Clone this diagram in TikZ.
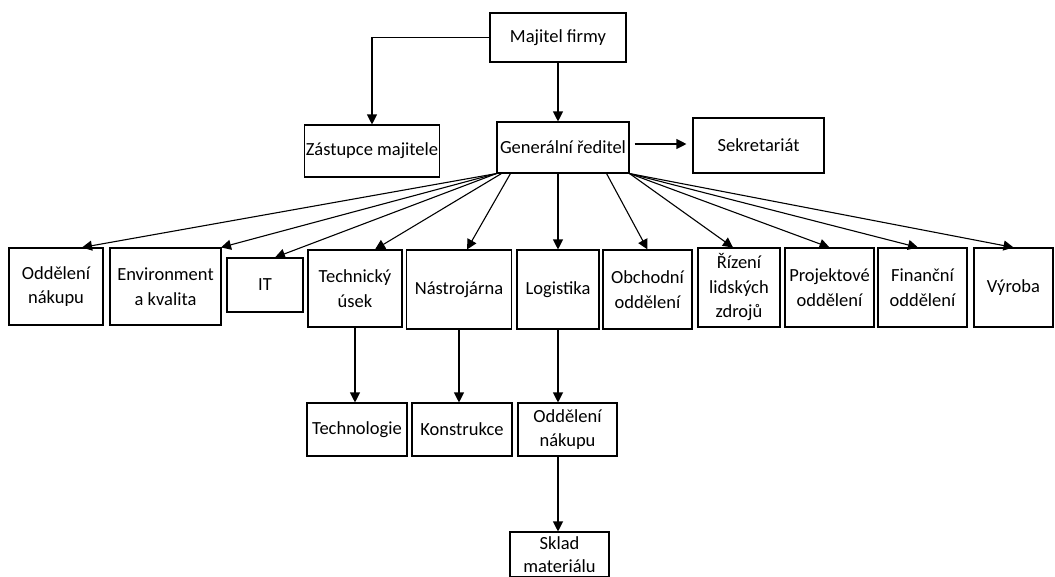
\documentclass[tikz,border=0pt]{standalone}
\usepackage{fontspec}
\setmainfont{Carlito}
\usetikzlibrary{arrows.meta}

\begin{document}
\begin{tikzpicture}[x=1pt, y=-1pt, line width=1.1pt,
		>={Triangle[length=10pt,width=10pt]},
		box/.style={draw, align=center, inner sep=1pt,
			font=\fontsize{18.5}{24.5}\selectfont}]
	% Rozměr obrázku (Sklad materiálu je dole oříznutý)
	\clip (0,0) rectangle (1055,576);
	
	% Vedení firmy
	\node[box, minimum width=136pt, minimum height=49pt] (maj) at (558,37.5) {Majitel firmy};
	\node[box, minimum width=132pt, minimum height=52pt] (zas) at (372,151) {Zástupce majitele};
	\node[box, minimum width=132pt, minimum height=51pt] (gen) at (563,147.5) {Generální ředitel};
	\node[box, minimum width=131pt, minimum height=55pt] (sek) at (758.5,145.5) {Sekretariát};
	
	% Oddělení pod generálním ředitelem
	\node[box, minimum width=94pt, minimum height=77pt] (odn) at (56,286.5) {Oddělení\\nákupu};
	\node[box, minimum width=111pt, minimum height=77pt] (env) at (165.5,286.5) {Environment\\a kvalita};
	\node[box, minimum width=76pt, minimum height=54pt] (it) at (265,285) {IT};
	\node[box, minimum width=94pt, minimum height=77pt] (tech) at (355,288.5) {Technický\\úsek};
	\node[box, minimum width=105pt, minimum height=79pt] (nas) at (459,289.5) {Nástrojárna};
	\node[box, minimum width=82pt, minimum height=79pt] (log) at (558,289.5) {Logistika};
	\node[box, minimum width=89pt, minimum height=79pt] (obch) at (647.5,289.5) {Obchodní\\oddělení};
	\node[box, minimum width=82pt, minimum height=79pt] (riz) at (739,287.5) {Řízení\\lidských\\zdrojů};
	\node[box, minimum width=89pt, minimum height=79pt] (proj) at (829.5,287.5) {Projektové\\oddělení};
	\node[box, minimum width=89pt, minimum height=79pt] (fin) at (922.5,287.5) {Finanční\\oddělení};
	\node[box, minimum width=79pt, minimum height=79pt] (vyr) at (1013.5,287.5) {Výroba};
	
	% Třetí a čtvrtá úroveň
	\node[box, minimum width=100pt, minimum height=53pt] (tgy) at (357,429.5) {Technologie};
	\node[box, minimum width=100pt, minimum height=53pt] (kon) at (462,429.5) {Konstrukce};
	\node[box, minimum width=99pt, minimum height=53pt] (odn2) at (567.5,429.5) {Oddělení\\nákupu};
	\node[box, minimum width=99pt, minimum height=45pt,
		font=\fontsize{18.5}{23}\selectfont] (skl) at (559.5,554.5) {Sklad\\materiálu};
	
	% Šipky od majitele
	\draw[->] (maj.west) -| (zas.north);
	\draw[->] (maj.south) -- (maj.south |- gen.north);
	\coordinate (s1) at ([yshift=3.5pt]gen.east);
	\draw[->, shorten <=5pt, shorten >=6pt] (s1) -- (s1 -| sek.west);
	
	% Šipky od generálního ředitele
	\foreach \cil/\dx in {odn/26, env/55.5, it/10}
		\draw[->] (gen.south west) -- ([xshift=\dx pt]\cil.north);
	\draw[->] ([xshift=5pt]gen.south west) -- ([xshift=20pt]tech.north);
	\draw[->] ([xshift=14pt]gen.south west) -- ([xshift=8pt]nas.north);
	\draw[->] (log.north |- gen.south) -- (log.north);
	\draw[->] ([xshift=-23pt]gen.south east) -- (obch.north);
	\foreach \cil/\dx in {riz/-6, proj/0, fin/-4.5, vyr/0}
		\draw[->] (gen.south east) -- ([xshift=\dx pt]\cil.north);
	
	% Svislé šipky dolů
	\draw[->] (tech.south) -- (tech.south |- tgy.north);
	\draw[->] (nas.south) -- (nas.south |- kon.north);
	\draw[->] (log.south) -- (log.south |- odn2.north);
	\draw[->] (log.south |- odn2.south) -- (log.south |- skl.north);
\end{tikzpicture}
\end{document}
